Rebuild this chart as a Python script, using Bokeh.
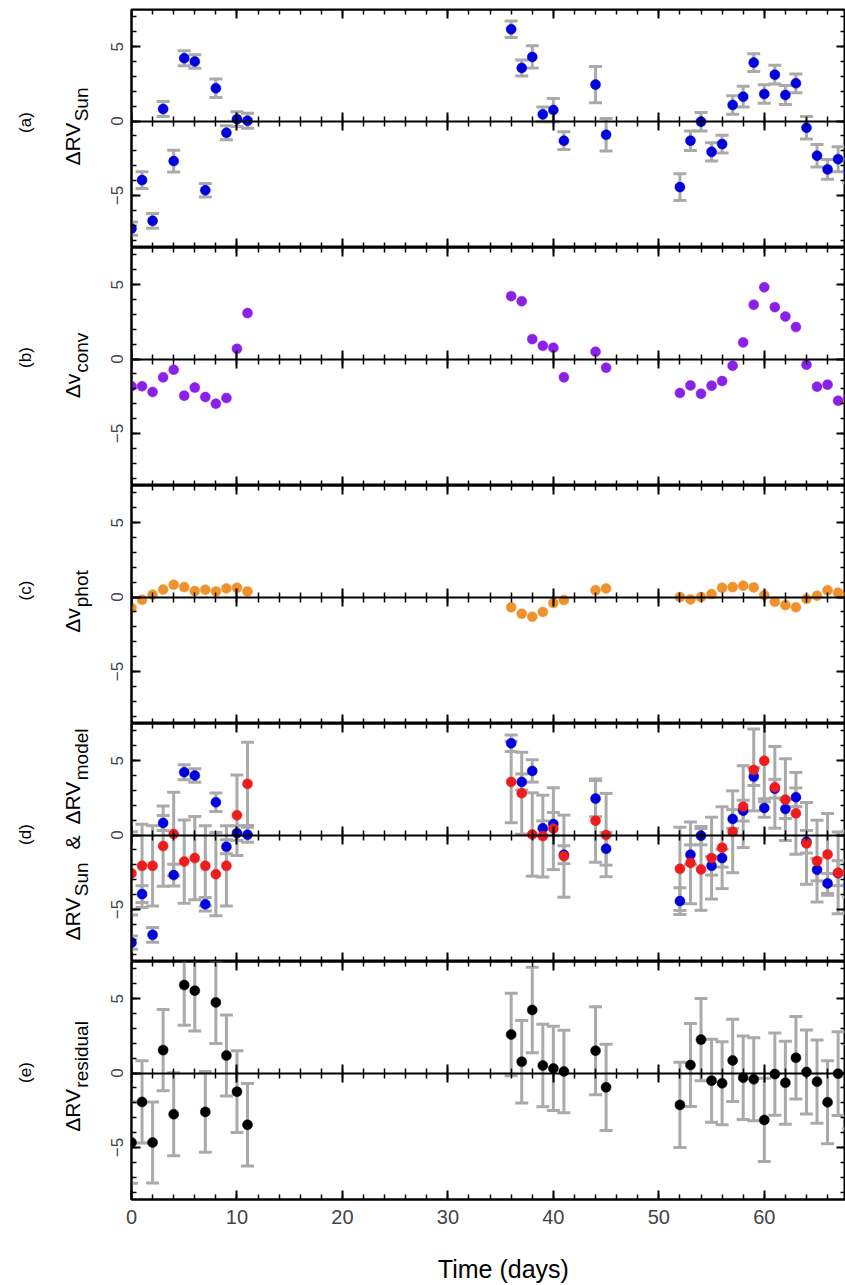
import math
from bokeh.plotting import figure
from bokeh.models import Range1d, LinearAxis, SingleIntervalTicker, ColumnDataSource, Grid
from bokeh.layouts import column, row
from bokeh.embed import file_html
from bokeh.resources import INLINE
from bokeh.core.properties import value

# ---------------- data ----------------
days = [0, 1, 2, 3, 4, 5, 6, 7, 8, 9, 10, 11,
        36, 37, 38, 39, 40, 41,
        44, 45,
        52, 53, 54, 55, 56, 57, 58, 59, 60, 61, 62, 63, 64, 65, 66, 67, 68]

rv_sun = [-7.23, -3.97, -6.71, 0.81, -2.69, 4.22, 4.00, -4.65, 2.20, -0.79, 0.13, 0.02,
          6.17, 3.57, 4.31, 0.45, 0.74, -1.32,
          2.45, -0.92,
          -4.44, -1.32, -0.04, -2.07, -1.55, 1.08, 1.64, 3.93, 1.82, 3.12, 1.75, 2.54,
          -0.45, -2.33, -3.25, -2.56, -3.37]
rv_sun_err = [0.45, 0.56, 0.50, 0.50, 0.73, 0.50, 0.45, 0.45, 0.62, 0.47, 0.50, 0.50,
              0.56, 0.54, 0.75, 0.50, 0.78, 0.60,
              1.22, 1.10,
              0.90, 0.66, 0.62, 0.62, 0.60, 0.63, 0.70, 0.60, 0.62, 0.63, 0.64, 0.63,
              0.76, 0.75, 0.67, 0.84, 0.80]

dv_conv = [-1.83, -1.83, -2.21, -1.23, -0.72, -2.46, -1.92, -2.55, -3.00, -2.62, 0.69, 3.09,
           4.23, 3.89, 1.34, 0.89, 0.76, -1.23,
           0.49, -0.58,
           -2.28, -1.77, -2.33, -1.79, -1.48, -0.45, 1.12, 3.65, 4.83, 3.49, 2.86, 2.15,
           -0.38, -1.86, -1.72, -2.80, -2.57]

dv_phot = [-0.74, -0.18, 0.16, 0.51, 0.83, 0.67, 0.40, 0.49, 0.38, 0.58, 0.62, 0.38,
           -0.69, -1.12, -1.32, -1.00, -0.40, -0.20,
           0.45, 0.58,
           0.00, -0.16, 0.00, 0.20, 0.62, 0.67, 0.76, 0.65, 0.13, -0.31, -0.54, -0.69,
           -0.13, 0.09, 0.45, 0.29, 0.10]

rv_model = [-2.58, -2.07, -2.07, -0.74, 0.07, -1.78, -1.55, -2.07, -2.63, -2.07, 1.33, 3.44,
            3.57, 2.81, 0.04, -0.07, 0.43, -1.42,
            0.97, 0.00,
            -2.27, -1.87, -2.31, -1.55, -0.85, 0.22, 1.91, 4.38, 4.99, 3.21, 2.38, 1.46,
            -0.56, -1.75, -1.30, -2.54, -2.47]
rv_model_err = [2.80, 2.80, 2.70, 2.70, 2.80, 2.80, 2.80, 2.70, 2.80, 2.70, 2.70, 2.80,
                2.74, 2.75, 2.80, 2.75, 2.75, 2.76,
                2.80, 2.80,
                2.80, 2.75, 2.75, 2.75, 2.75, 2.75, 2.75, 2.75, 2.75, 2.75, 2.75, 2.75,
                2.75, 2.75, 2.75, 2.75, 2.75]

rv_resid = [-4.67, -1.94, -4.67, 1.54, -2.77, 5.92, 5.54, -2.61, 4.75, 1.18, -1.25, -3.48,
            2.59, 0.76, 4.24, 0.51, 0.31, 0.11,
            1.50, -0.96,
            -2.14, 0.54, 2.25, -0.51, -0.69, 0.85, -0.31, -0.42, -3.15, -0.07, -0.65, 1.03,
            0.07, -0.58, -1.96, -0.04, -0.90]
rv_resid_err = [2.73, 2.77, 2.72, 2.73, 2.79, 2.70, 2.72, 2.71, 2.77, 2.73, 2.75, 2.77,
                2.77, 2.77, 2.88, 2.77, 2.83, 2.77,
                2.95, 2.90,
                2.86, 2.79, 2.77, 2.79, 2.79, 2.77, 2.81, 2.79, 2.80, 2.77, 2.79, 2.77,
                2.82, 2.80, 2.79, 2.82, 2.85]

panel_tags = ["(a)", "(b)", "(c)", "(d)", "(e)"]
x_title = "Time (days)"
x_ticks_interval = 10
y_ticks_interval = 5

# ---------------- style / layout constants ----------------
FONT = "Liberation Sans"
X_START, X_END = 0, 67.7
Y_START, Y_END = -8.5, 7.5
FRAME_H = 238
PAGE_W, PAGE_H = 845, 1285
LAB_W = 100           # left strip holding the rotated axis titles
AX_BORDER = 31        # main figure left border (tick labels)
MAIN_W = PAGE_W - LAB_W
TOP_PAD = 9
BOTTOM_BORDER = 34
TITLE_H = PAGE_H - (TOP_PAD + 5 * FRAME_H + BOTTOM_BORDER)
GRAY = "#aaaaaa"
BLUE = "#0000dd"
PURPLE = "#8b20e8"
ORANGE = "#f0922b"
RED = "#ee1c1c"

xr = Range1d(X_START, X_END)

WID = {"Δ": 668, "R": 722, "V": 667, "S": 667, "u": 556, "n": 556, "m": 833, "o": 556,
       "d": 556, "e": 556, "l": 222, "v": 500, "c": 500, "p": 556, "h": 556, "t": 278,
       "r": 333, "s": 500, "i": 222, "a": 556, "&": 667, " ": 278}


def tw(s, size):
    return sum(WID.get(ch, 556) for ch in s) * size / 1000.0


def no_grid(p):
    p.center = [r for r in p.center if not isinstance(r, Grid)]


def style_axis(ax, mi, mo, ni, no, labels=False):
    ax.axis_line_width = 2
    ax.axis_line_color = "black"
    ax.major_tick_line_width = 2
    ax.minor_tick_line_width = 1.5
    ax.major_tick_line_color = "black"
    ax.minor_tick_line_color = "black"
    ax.major_tick_in = mi
    ax.major_tick_out = mo
    ax.minor_tick_in = ni
    ax.minor_tick_out = no
    if not labels:
        ax.major_label_text_color = None
        ax.major_label_standoff = 0
    return ax


def xticker():
    return SingleIntervalTicker(interval=x_ticks_interval, num_minor_ticks=5)


def yticker():
    return SingleIntervalTicker(interval=y_ticks_interval, num_minor_ticks=5)


def make_panel(top=False, bottom=False):
    bt = TOP_PAD if top else 0
    bb = BOTTOM_BORDER if bottom else 0
    p = figure(width=MAIN_W, height=FRAME_H + bt + bb, x_range=xr,
               y_range=Range1d(Y_START, Y_END),
               output_backend="svg", toolbar_location=None,
               x_axis_location=None, y_axis_location=None,
               min_border_left=AX_BORDER, min_border_right=0,
               min_border_top=bt, min_border_bottom=bb)
    no_grid(p)
    p.outline_line_color = "black"
    p.outline_line_width = 2

    yl = LinearAxis(ticker=yticker())
    style_axis(yl, 9, 0, 5, 0, labels=True)
    yl.major_label_orientation = "vertical"
    yl.major_label_text_font = FONT
    yl.major_label_text_font_size = "17px"
    yl.major_label_standoff = 9
    yl.major_label_overrides = {-5: "\u22125"}
    p.add_layout(yl, "left")

    yr = LinearAxis(fixed_location=X_END, ticker=yticker())
    style_axis(yr, 9, 0, 5, 0)
    p.add_layout(yr, "right")

    xt = LinearAxis(fixed_location=Y_END, ticker=xticker())
    style_axis(xt, 9, 0, 5, 0)
    p.add_layout(xt, "above")

    xz = LinearAxis(fixed_location=0, ticker=xticker())
    style_axis(xz, 9, 9, 5, 5)
    p.add_layout(xz, "below")

    if bottom:
        xb = LinearAxis(ticker=xticker())
        style_axis(xb, 9, 0, 5, 0, labels=True)
        xb.major_label_text_font = FONT
        xb.major_label_text_font_size = "20px"
        xb.major_label_standoff = 10
        p.add_layout(xb, "below")
    else:
        xb = LinearAxis(fixed_location=Y_START, ticker=xticker())
        style_axis(xb, 9, 0, 5, 0)
        p.add_layout(xb, "below")
    return p


def errorbars(p, x, y, e):
    src = ColumnDataSource(dict(x=x, lo=[a - b for a, b in zip(y, e)],
                                hi=[a + b for a, b in zip(y, e)]))
    p.segment(x0="x", y0="lo", x1="x", y1="hi", source=src, line_color=GRAY, line_width=3)
    p.scatter(x="x", y="lo", source=src, marker="dash", size=13, line_color=GRAY, line_width=3)
    p.scatter(x="x", y="hi", source=src, marker="dash", size=13, line_color=GRAY, line_width=3)


def points(p, x, y, color):
    p.scatter(x=x, y=y, size=10, fill_color=color, line_color=color, line_width=0.5)


# ---------------- panels ----------------
pa = make_panel(top=True)
errorbars(pa, days, rv_sun, rv_sun_err)
points(pa, days, rv_sun, BLUE)

pb = make_panel()
points(pb, days, dv_conv, PURPLE)

pc = make_panel()
points(pc, days, dv_phot, ORANGE)

pd = make_panel()
errorbars(pd, days, rv_model, rv_model_err)
errorbars(pd, days, rv_sun, rv_sun_err)
points(pd, days, rv_sun, BLUE)
points(pd, days, rv_model, RED)

pe = make_panel(bottom=True)
errorbars(pe, days, rv_resid, rv_resid_err)
points(pe, days, rv_resid, "black")

# ---------------- x title strip ----------------
pt = figure(width=MAIN_W, height=TITLE_H, x_range=Range1d(0, MAIN_W),
            y_range=Range1d(TITLE_H, 0), output_backend="svg", toolbar_location=None,
            x_axis_location=None, y_axis_location=None,
            min_border_left=0, min_border_right=0, min_border_top=0, min_border_bottom=0)
no_grid(pt)
pt.outline_line_color = None
pt.text(x=[AX_BORDER + (MAIN_W - AX_BORDER) / 2.0], y=[TITLE_H - 17], text=[x_title],
        text_font=value(FONT), text_font_size=value("25px"), text_align="center",
        text_baseline="alphabetic", text_color="black")

# ---------------- left strip with rotated axis titles ----------------
pl = figure(width=LAB_W, height=PAGE_H, x_range=Range1d(0, LAB_W),
            y_range=Range1d(PAGE_H, 0), output_backend="svg", toolbar_location=None,
            x_axis_location=None, y_axis_location=None,
            min_border_left=0, min_border_right=0, min_border_top=0, min_border_bottom=0)
no_grid(pl)
pl.outline_line_color = None

MAIN, SUB = 21, 19
MAIN_X, SUB_X = 72, 81     # centre lines of the rotated main text and subscripts
ylabels = [
    [("ΔRV", MAIN, 0), ("Sun", SUB, 1)],
    [("Δv", MAIN, 0), ("conv", SUB, 1)],
    [("Δv", MAIN, 0), ("phot", SUB, 1)],
    [("ΔRV", MAIN, 0), ("Sun", SUB, 1), ("&", MAIN, 13), ("ΔRV", MAIN, 11), ("model", SUB, 1)],
    [("ΔRV", MAIN, 0), ("residual", SUB, 1)],
]
label_centers = [126, 365, 601, 834, 1076]
tag_centers = [122, 357, 590, 834, 1072]

for pieces, cy in zip(ylabels, label_centers):
    total = sum(tw(t, s) + g for t, s, g in pieces)
    y = cy + total / 2.0
    for t, s, g in pieces:
        y -= g
        bx = MAIN_X if s == MAIN else SUB_X
        pl.text(x=[bx], y=[y], text=[t], angle=math.pi / 2, text_font=value(FONT),
                text_font_size=value(f"{s}px"), text_align="left",
                text_baseline="middle", text_color="black")
        y -= tw(t, s)

pl.text(x=[25] * 5, y=tag_centers, text=panel_tags, angle=math.pi / 2,
        text_font=value(FONT), text_font_size=value("17px"), text_align="center",
        text_baseline="middle", text_color="black")

layout = row(pl, column(pa, pb, pc, pd, pe, pt, spacing=0), spacing=0)
open("out.html", "w").write(file_html(layout, INLINE))
